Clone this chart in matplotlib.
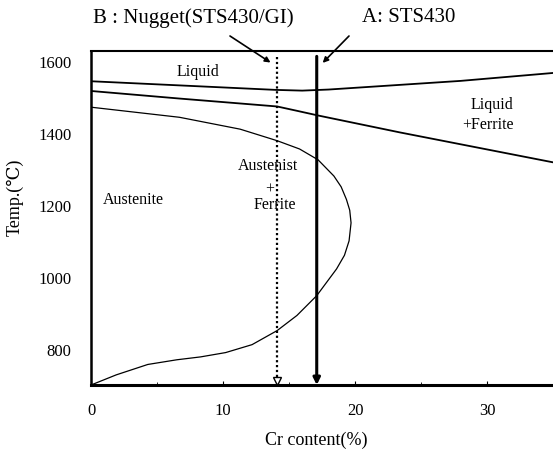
import numpy as np
import matplotlib
matplotlib.use('Agg')
from matplotlib import pyplot as plt

plt.rcParams['font.family'] = ['Liberation Serif', 'DejaVu Serif']

# liquidus (upper line)
liq_x = [0, 7, 14, 16, 18, 23, 28, 35]
liq_t = [1543, 1531, 1519, 1517, 1520, 1532, 1544, 1566]
# liquid+ferrite / ferrite boundary
fer_x = [0, 6.7, 14.1, 15.6, 17.2, 23.4, 35]
fer_t = [1516, 1495, 1473, 1461, 1448, 1401, 1318]
# austenite loop
gam_x = [0, 1.9, 4.3, 6.5, 8.3, 10.2, 12.2, 14.1, 15.6, 17.1, 17.85, 18.6, 19.2, 19.55, 19.7,
         19.6, 19.35, 18.95, 18.4, 17.2, 15.8, 14.1, 11.3, 6.7, 0]
gam_t = [700, 728, 757, 770, 778, 790, 812, 851, 893, 948, 985, 1022, 1060, 1100, 1150,
         1185, 1215, 1250, 1280, 1325, 1355, 1378, 1410, 1443, 1471]

# composition markers
cr_nugget = 14.1
cr_sts430 = 17.1

region_labels = ['Liquid', 'Liquid', '+Ferrite', 'Austenist', '+', 'Ferrite', 'Austenite']
region_x = [8.1, 32.0, 32.0, 13.4, 13.5, 13.9, 3.2]
region_t = [1572, 1480, 1424, 1310, 1246, 1202, 1216]
region_ha = ['center', 'right', 'right', 'center', 'center', 'center', 'center']

xticks = [0, 10, 20, 30]
yticks = [800, 1000, 1200, 1400, 1600]
x_lo, x_hi = 0, 35
t_lo, t_hi = 700, 1627

fig = plt.figure(figsize=(5.53, 4.56), dpi=100)
ax = fig.add_axes([0.1646, 0.1535, 0.8354, 0.7325])

ax.plot(liq_x, liq_t, color='black', lw=1.3)
ax.plot(fer_x, fer_t, color='black', lw=1.3)
ax.plot(gam_x, gam_t, color='black', lw=0.9)

# vertical composition lines with arrowheads at the bottom
ax.plot([cr_nugget, cr_nugget], [1610, t_lo + 12], color='black', lw=1.6, ls=(0, (1, 1.2)))
ax.plot([cr_nugget], [t_lo + 10], marker='v', ms=6, mfc='white', mec='black', mew=1.0)
ax.annotate('', xy=(cr_sts430, t_lo), xytext=(cr_sts430, 1612),
            arrowprops=dict(arrowstyle='-|>', lw=2.2, color='black', mutation_scale=10,
                            shrinkA=0, shrinkB=0))

for lab, x, t, ha in zip(region_labels, region_x, region_t, region_ha):
    ax.text(x, t, lab, ha=ha, va='center', fontsize=11.5)

# captions above the plot with pointer arrows
fig.text(193 / 553, 1 - 18 / 456, 'B : Nugget(STS430/GI)', ha='center', va='center', fontsize=15)
fig.text(409 / 553, 1 - 18 / 456, 'A: STS430', ha='center', va='center', fontsize=15)
ax.annotate('', xy=(cr_nugget - 0.5, 1595), xycoords='data',
            xytext=(230 / 553, 1 - 37 / 456), textcoords='figure fraction',
            arrowprops=dict(arrowstyle='-|>', lw=1.2, color='black', mutation_scale=8,
                            shrinkA=0, shrinkB=0))
ax.annotate('', xy=(cr_sts430 + 0.45, 1594), xycoords='data',
            xytext=(349 / 553, 1 - 37 / 456), textcoords='figure fraction',
            arrowprops=dict(arrowstyle='-|>', lw=1.2, color='black', mutation_scale=8,
                            shrinkA=0, shrinkB=0))

ax.set_xlim(x_lo, x_hi)
ax.set_ylim(t_lo, t_hi)
ax.set_xticks(xticks)
ax.set_xticks(np.arange(5, 35, 10), minor=True)
ax.set_yticks(yticks)
ax.tick_params(axis='x', direction='in', length=3, width=0.8, pad=12, labelsize=12)
ax.tick_params(axis='x', which='minor', direction='in', length=2, width=0.6)
ax.tick_params(axis='y', length=0, pad=14, labelsize=12)

ax.spines['right'].set_visible(False)
ax.spines['left'].set_linewidth(1.8)
ax.spines['top'].set_linewidth(1.5)
ax.spines['bottom'].set_linewidth(2.2)

ax.set_xlabel('Cr content(%)', fontsize=13)
ax.set_ylabel('Temp.(℃)', fontsize=13)
ax.xaxis.set_label_coords(0.487, -0.162)
ax.yaxis.set_label_coords(-0.1645, 0.566)
ax.xaxis.label.set_va('center')
ax.yaxis.label.set_va('center')

fig.savefig('out.png', dpi=100)
